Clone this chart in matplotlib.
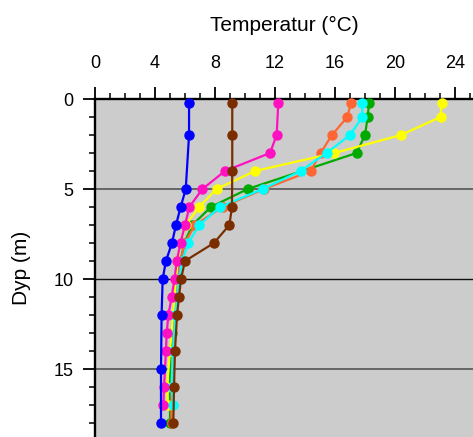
import matplotlib
matplotlib.use("Agg")
import matplotlib.pyplot as plt
from matplotlib.ticker import MultipleLocator

plt.rcParams['font.family'] = ['Liberation Sans', 'DejaVu Sans']

blue_depth = [0.2, 2, 5, 6, 7, 8, 9, 10, 12, 15, 18]
blue_temp = [6.27, 6.27, 6.05, 5.71, 5.4, 5.13, 4.73, 4.51, 4.44, 4.4, 4.4]

brown_depth = [0.2, 2, 4, 6, 7, 8, 9, 10, 11, 12, 14, 16, 18]
brown_temp = [9.15, 9.15, 9.15, 9.13, 8.96, 7.93, 6.0, 5.73, 5.6, 5.47, 5.33, 5.27, 5.22]

pink_depth = [0.2, 2, 3, 4, 5, 6, 7, 8, 9, 10, 11, 12, 13, 14, 16, 17]
pink_temp = [12.22, 12.11, 11.67, 8.67, 7.16, 6.29, 6.0, 5.7, 5.45, 5.3, 5.11, 4.89, 4.78, 4.73, 4.6, 4.56]

yellow_depth = [0.2, 1, 2, 3, 4, 5, 6, 7, 8, 9, 10, 12, 14, 16, 17]
yellow_temp = [23.1, 23.04, 20.4, 15.96, 10.67, 8.1, 6.95, 6.04, 5.71, 5.49, 5.4, 5.2, 5.0, 4.8, 4.85]

green_depth = [0.2, 1, 2, 3, 5, 6, 7, 8, 9, 10, 11, 13, 14, 16, 18]
green_temp = [18.27, 18.18, 18.0, 17.44, 10.18, 7.73, 6.49, 5.96, 5.7, 5.55, 5.4, 5.1, 5.05, 5.0, 5.0]

orange_depth = [0.2, 1, 2, 3, 4, 5, 6, 7, 8, 9, 10, 12, 14, 16, 18]
orange_temp = [17.07, 16.82, 15.8, 15.04, 14.38, 11.27, 8.5, 6.67, 6.0, 5.7, 5.55, 5.3, 5.2, 5.1, 5.1]

cyan_depth = [0.2, 1, 2, 3, 4, 5, 6, 7, 8, 9, 10, 12, 14, 16, 17]
cyan_temp = [17.82, 17.82, 17.0, 15.44, 13.71, 11.18, 8.33, 6.95, 6.22, 5.8, 5.6, 5.35, 5.2, 5.1, 5.22]

x_ticks = [0, 4, 8, 12, 16, 20, 24]
y_ticks = [0, 5, 10, 15]

series = [
    (green_temp, green_depth, '#00aa00'),
    (orange_temp, orange_depth, '#ff6633'),
    (yellow_temp, yellow_depth, '#ffff00'),
    (cyan_temp, cyan_depth, '#00ffff'),
    (pink_temp, pink_depth, '#ff10c0'),
    (blue_temp, blue_depth, '#0000ff'),
    (brown_temp, brown_depth, '#7a2e00'),
]

W, H = 473, 437
fig = plt.figure(figsize=(W / 100, H / 100), dpi=100)
left_px, top_px = 95, 99
ax = fig.add_axes([left_px / W, 0, (W - left_px) / W, (H - top_px) / H])
ax.set_facecolor('#cccccc')

for t, d, c in series:
    ax.plot(t, d, '-o', color=c, lw=1.6, markersize=6.5, clip_on=False, zorder=3)

for y in [5, 15]:
    ax.axhline(y, color='#555555', lw=1.2, zorder=1)
ax.axhline(10, color='#111111', lw=1.0, zorder=1)

ax.set_xlim(0, (W - left_px) / 15)
ax.set_ylim((H - top_px) / 18, 0)

ax.xaxis.set_ticks_position('top')
ax.xaxis.set_label_position('top')
ax.set_xticks(x_ticks)
ax.set_yticks(y_ticks)
ax.xaxis.set_minor_locator(MultipleLocator(1))
ax.yaxis.set_minor_locator(MultipleLocator(1))
ax.tick_params(which='major', length=8.5, width=1.3, labelsize=13, pad=11, direction='out')
ax.tick_params(which='minor', length=4.3, width=1.1, direction='out')
ax.tick_params(axis='y', which='major', pad=7)

for s in ['right', 'bottom']:
    ax.spines[s].set_visible(False)
for s in ['top', 'left']:
    ax.spines[s].set_linewidth(1.7)

ax.set_xlabel('Temperatur (°C)', fontsize=15, labelpad=17)
ax.set_ylabel('Dyp (m)', fontsize=15, labelpad=16)

fig.savefig('out.png', dpi=100)
